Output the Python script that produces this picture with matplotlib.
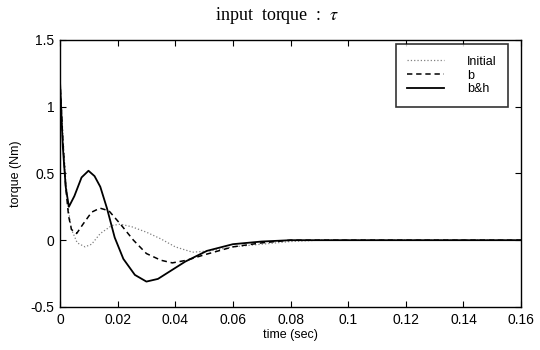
import numpy as np
import matplotlib.pyplot as plt

# values
t_init = [0, 0.001, 0.002, 0.003, 0.004, 0.006, 0.0087, 0.011, 0.014, 0.018, 0.021,
          0.025, 0.03, 0.035, 0.04, 0.046, 0.052, 0.06, 0.07, 0.08, 0.09, 0.1, 0.16]
tau_init = [1.2, 0.8, 0.45, 0.22, 0.08, -0.02, -0.05, -0.03, 0.05, 0.11, 0.12,
            0.1, 0.06, 0.01, -0.05, -0.09, -0.08, -0.05, -0.03, -0.01, 0, 0, 0]

t_b = [0, 0.001, 0.002, 0.003, 0.004, 0.0058, 0.008, 0.011, 0.0139, 0.017, 0.021,
       0.0255, 0.03, 0.035, 0.039, 0.044, 0.05, 0.055, 0.06, 0.07, 0.08, 0.1, 0.16]
tau_b = [1.2, 0.75, 0.4, 0.18, 0.08, 0.05, 0.12, 0.21, 0.24, 0.22, 0.12,
         0.0, -0.1, -0.15, -0.17, -0.15, -0.11, -0.08, -0.05, -0.02, 0, 0, 0]

t_bh = [0, 0.001, 0.002, 0.0031, 0.005, 0.0075, 0.0099, 0.012, 0.014, 0.0163, 0.019,
        0.022, 0.026, 0.030, 0.034, 0.0435, 0.051, 0.06, 0.07, 0.08, 0.1, 0.16]
tau_bh = [1.2, 0.7, 0.4, 0.25, 0.33, 0.47, 0.52, 0.48, 0.40, 0.24, 0.02,
          -0.14, -0.26, -0.31, -0.29, -0.16, -0.08, -0.03, -0.01, 0, 0, 0]

x_ticks = [0, 0.02, 0.04, 0.06, 0.08, 0.1, 0.12, 0.14, 0.16]
x_labels = ["0", "0.02", "0.04", "0.06", "0.08", "0.1", "0.12", "0.14", "0.16"]
y_ticks = [-0.5, 0, 0.5, 1, 1.5]
y_labels = ["-0.5", "0", "0.5", "1", "1.5"]

plt.rcParams['font.family'] = 'Liberation Sans'
plt.rcParams['mathtext.fontset'] = 'stix'

fig = plt.figure(figsize=(5.4, 3.5), dpi=100)
ax = fig.add_axes([0.111, 0.123, 0.854, 0.763])

ax.plot(t_init, tau_init, color='0.5', linestyle=':', linewidth=0.9, label='Initial')
ax.plot(t_b, tau_b, color='black', linestyle=(0, (3.5, 2.5)), linewidth=1.1, label='b')
ax.plot(t_bh, tau_bh, color='black', linestyle='-', linewidth=1.3, label='b&h')

ax.set_xlim(0, 0.16)
ax.set_ylim(-0.5, 1.5)
ax.set_xticks(x_ticks)
ax.set_xticklabels(x_labels)
ax.set_yticks(y_ticks)
ax.set_yticklabels(y_labels)
ax.tick_params(direction='in', top=True, right=True, labelsize=10, length=4, width=0.8, pad=4)
for s in ax.spines.values():
    s.set_linewidth(1.0)

ax.set_xlabel("time (sec)", fontsize=9, labelpad=2)
ax.set_ylabel("torque (Nm)", fontsize=9, labelpad=6)
fig.text(0.513, 0.955, r"input  torque  :  $\tau$", family='Liberation Serif', fontsize=13,
         ha='center', va='center')

leg = ax.legend(loc='upper right', bbox_to_anchor=(0.972, 0.983), fontsize=9,
                frameon=True, fancybox=False, handlelength=2.9, handletextpad=1.9,
                borderpad=0.9, labelspacing=0.15, borderaxespad=0)
leg.get_frame().set_edgecolor('black')
leg.get_frame().set_linewidth(1.2)

plt.savefig("out.png", dpi=100)
